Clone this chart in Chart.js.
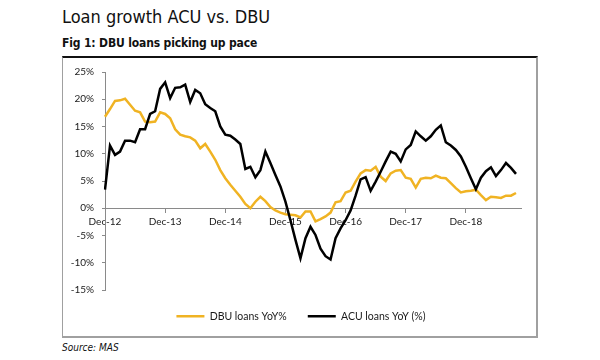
<!DOCTYPE html>
<html>
<head>
<meta charset="utf-8">
<script src="https://cdn.jsdelivr.net/npm/chart.js@4.4.1/dist/chart.umd.min.js"></script>
<style>
  body { margin: 0; width: 600px; height: 360px; background: #fff; position: relative; overflow: hidden; }
  .txt { position: absolute; left: 62px; color: #111; white-space: nowrap; font-family: "DejaVu Sans Condensed", "DejaVu Sans", sans-serif; font-stretch: condensed; }
  #title { top: 8px; font-size: 18px; line-height: 18px; }
  #sub { top: 36.5px; font-size: 12px; line-height: 12px; font-weight: bold; letter-spacing: -0.15px; }
  #src { top: 343px; font-size: 10px; line-height: 10px; font-style: italic; }
  #frame { position: absolute; left: 62px; top: 56px; width: 476px; height: 282px; box-sizing: border-box;
           border-top: 2px solid #111; border-left: 1px solid #a0a0a0; border-right: 2px solid #a0a0a0; border-bottom: 2px solid #a0a0a0; }
  #chart { display: block; }
</style>
</head>
<body>
<div class="txt" id="title">Loan growth ACU vs. DBU</div>
<div class="txt" id="sub">Fig 1: DBU loans picking up pace</div>
<div id="frame"><canvas id="chart" width="473" height="278"></canvas></div>
<div class="txt" id="src">Source: MAS</div>
<script>
const months = [
  'Dec-12',
  'Jan-13','Feb-13','Mar-13','Apr-13','May-13','Jun-13','Jul-13','Aug-13','Sep-13','Oct-13','Nov-13','Dec-13',
  'Jan-14','Feb-14','Mar-14','Apr-14','May-14','Jun-14','Jul-14','Aug-14','Sep-14','Oct-14','Nov-14','Dec-14',
  'Jan-15','Feb-15','Mar-15','Apr-15','May-15','Jun-15','Jul-15','Aug-15','Sep-15','Oct-15','Nov-15','Dec-15',
  'Jan-16','Feb-16','Mar-16','Apr-16','May-16','Jun-16','Jul-16','Aug-16','Sep-16','Oct-16','Nov-16','Dec-16',
  'Jan-17','Feb-17','Mar-17','Apr-17','May-17','Jun-17','Jul-17','Aug-17','Sep-17','Oct-17','Nov-17','Dec-17',
  'Jan-18','Feb-18','Mar-18','Apr-18','May-18','Jun-18','Jul-18','Aug-18','Sep-18','Oct-18','Nov-18','Dec-18',
  'Jan-19','Feb-19','Mar-19','Apr-19','May-19','Jun-19','Jul-19','Aug-19','Sep-19','Oct-19','Nov-19'
];

// DBU loans YoY %, Dec-12 .. Oct-19
const dbuLoans = [
  16.8,
  18.2, 19.7, 19.8, 20.1, 19.0, 17.9, 17.6, 15.9, 15.8, 15.9, 17.6, 17.3,
  16.5, 14.5, 13.5, 13.2, 13.0, 12.4, 11.0, 11.8, 10.4, 8.9, 7.0, 5.5,
  4.3, 3.2, 2.1, 0.8, 0.0, 1.2, 2.1, 1.3, 0.2, -0.4, -0.8, -1.1,
  -1.2, -1.3, -1.7, -0.6, -0.6, -2.4, -2.0, -1.5, -0.8, 1.1, 1.3, 2.9,
  3.2, 4.9, 6.4, 7.0, 6.9, 7.6, 5.8, 5.0, 6.4, 6.9, 7.0, 5.6,
  5.4, 3.8, 5.4, 5.6, 5.5, 6.0, 5.6, 5.5, 4.6, 3.7, 2.9, 3.1,
  3.2, 3.4, 2.4, 1.5, 2.1, 2.0, 1.9, 2.3, 2.3, 2.8
];

// ACU loans YoY %, Dec-12 .. Oct-19
const acuLoans = [
  3.4,
  11.5, 9.8, 10.4, 12.4, 12.4, 12.1, 14.5, 14.5, 17.3, 17.8, 21.9, 23.1,
  20.2, 22.1, 22.2, 22.7, 19.5, 21.7, 21.1, 19.1, 18.4, 17.8, 15.0, 13.5,
  13.3, 12.6, 11.8, 7.2, 7.6, 5.7, 7.0, 10.4, 8.3, 6.1, 4.0, 1.2,
  -2.2, -5.8, -9.2, -5.5, -3.4, -4.9, -7.4, -8.8, -9.4, -5.5, -3.7, -2.2,
  -0.4, 2.3, 5.3, 5.7, 3.2, 4.9, 6.7, 8.6, 10.4, 10.0, 8.6, 10.8,
  11.6, 14.1, 13.2, 12.4, 13.2, 14.4, 15.2, 12.1, 11.5, 10.7, 9.5, 7.6,
  5.5, 3.5, 5.6, 6.8, 7.5, 5.9, 7.0, 8.3, 7.4, 6.3
];

const xTickLabels = ['Dec-12', 'Dec-13', 'Dec-14', 'Dec-15', 'Dec-16', 'Dec-17', 'Dec-18'];
const yTicks = [-15, -10, -5, 0, 5, 10, 15, 20, 25];

const axisGrey = '#8a8a8a';
const tickFont = { family: 'Lato', size: 10 };

// the legend in the original sits a little right of the canvas centre
const legendShift = {
  id: 'legendShift',
  afterLayout(chart) {
    chart.legend.left += 9;
    chart.legend.right += 9;
  }
};

const ctx = document.getElementById('chart').getContext('2d');
new Chart(ctx, {
  type: 'line',
  data: {
    labels: months,
    datasets: [
      {
        label: 'DBU loans YoY%',
        data: dbuLoans,
        borderColor: '#F0B323',
        borderWidth: 2.5,
        pointRadius: 0,
        tension: 0,
        order: 1
      },
      {
        label: 'ACU loans YoY (%)',
        data: acuLoans,
        borderColor: '#000000',
        borderWidth: 2.5,
        pointRadius: 0,
        tension: 0,
        order: 0
      }
    ]
  },
  plugins: [legendShift],
  options: {
    responsive: false,
    animation: false,
    layout: { padding: { left: 0, right: 15, top: 14, bottom: 4.5 } },
    plugins: {
      tooltip: { enabled: false },
      legend: {
        position: 'bottom',
        labels: {
          usePointStyle: true,
          pointStyle: 'line',
          pointStyleWidth: 28,
          padding: 21,
          color: '#1a1a1a',
          font: { family: 'Lato', size: 10.5 },
          sort: (a, b) => a.datasetIndex - b.datasetIndex
        }
      }
    },
    scales: {
      x: {
        position: { y: 0 },
        afterBuildTicks: scale => {
          scale.ticks = scale.ticks.filter(t => xTickLabels.includes(months[t.value]));
        },
        grid: { drawOnChartArea: false, drawTicks: true, tickLength: 4, color: axisGrey },
        border: { color: axisGrey },
        ticks: {
          autoSkip: false,
          maxRotation: 0,
          padding: 4,
          color: '#1a1a1a',
          font: tickFont,
          callback: function (value) { return this.getLabelForValue(value); }
        }
      },
      y: {
        min: -15,
        max: 25,
        afterBuildTicks: scale => {
          scale.ticks = yTicks.map(v => ({ value: v }));
        },
        afterFit: scale => { scale.width = 42; },
        grid: { drawOnChartArea: false, drawTicks: true, tickLength: 3, color: axisGrey },
        border: { color: axisGrey },
        ticks: {
          padding: 8,
          color: '#1a1a1a',
          font: tickFont,
          callback: v => v + '%'
        }
      }
    }
  }
});
</script>
</body>
</html>
